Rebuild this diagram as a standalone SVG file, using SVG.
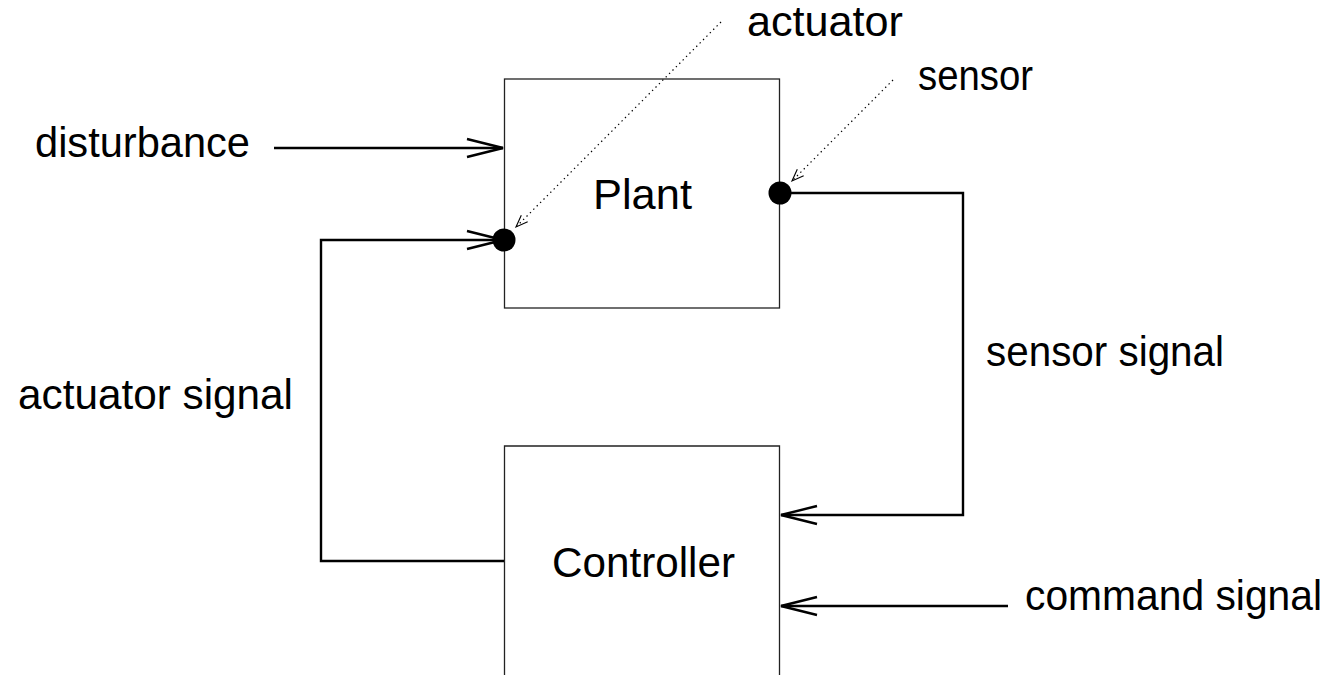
<svg xmlns="http://www.w3.org/2000/svg" width="1335" height="675" viewBox="0 0 1335 675">
  <style>
    .box { fill: none; stroke: #222; stroke-width: 1.3; }
    .wire { fill: none; stroke: #000; stroke-width: 2.4; }
    .leader { fill: none; stroke: #000; stroke-width: 1.2; stroke-dasharray: 1.4 3.4; }
    .dot { fill: #000; }
    text { font-family: "Liberation Sans", Arial, sans-serif; font-size: 42px; fill: #000; }
  </style>
  <defs>
    <!-- open chevron head for signal wires -->
    <marker id="open" markerUnits="userSpaceOnUse" viewBox="-40 -12 44 24" refX="0" refY="0" markerWidth="44" markerHeight="24" orient="auto">
      <path d="M-36,-9 L0,0 L-36,9" fill="none" stroke="#000" stroke-width="2.4"/>
    </marker>
    <!-- small head for dotted leaders -->
    <marker id="small" markerUnits="userSpaceOnUse" viewBox="-14 -6 16 12" refX="0" refY="0" markerWidth="16" markerHeight="12" orient="auto">
      <path d="M-12,-4.5 L0,0 L-12,4.5" fill="none" stroke="#000" stroke-width="1.1"/>
    </marker>
  </defs>

  <rect width="1335" height="675" fill="#fff"/>

  <g id="plant">
    <rect class="box" x="504.5" y="79" width="275" height="229"/>
    <text x="593" y="209" textLength="99" lengthAdjust="spacingAndGlyphs">Plant</text>
  </g>

  <g id="controller">
    <path class="box" d="M504.5,690 V446 H779.5 V690"/>
    <text x="552" y="577" textLength="183" lengthAdjust="spacingAndGlyphs">Controller</text>
  </g>

  <g id="connectors">
    <path class="wire" d="M274,148 H503" marker-end="url(#open)"/>
    <path class="wire" d="M504,561 H321 V240 H503" marker-end="url(#open)"/>
    <path class="wire" d="M780,193 H963 V515 H781" marker-end="url(#open)"/>
    <path class="wire" d="M1008,606 H781" marker-end="url(#open)"/>
    <path class="leader" d="M721,22 L516,227" marker-end="url(#small)"/>
    <path class="leader" d="M893,80 L792,181" marker-end="url(#small)"/>
  </g>

  <g id="actuator-point">
    <circle class="dot" cx="504" cy="240" r="11.5"/>
  </g>
  <g id="sensor-point">
    <circle class="dot" cx="780" cy="193" r="11.5"/>
  </g>

  <g id="labels">
    <text x="35" y="157" textLength="215" lengthAdjust="spacingAndGlyphs">disturbance</text>
    <text x="747" y="36" textLength="156" lengthAdjust="spacingAndGlyphs">actuator</text>
    <text x="918" y="90" textLength="115" lengthAdjust="spacingAndGlyphs">sensor</text>
    <text x="986" y="366" textLength="238" lengthAdjust="spacingAndGlyphs">sensor signal</text>
    <text x="18" y="409" textLength="275" lengthAdjust="spacingAndGlyphs">actuator signal</text>
    <text x="1025" y="610" textLength="297" lengthAdjust="spacingAndGlyphs">command signal</text>
  </g>
</svg>
